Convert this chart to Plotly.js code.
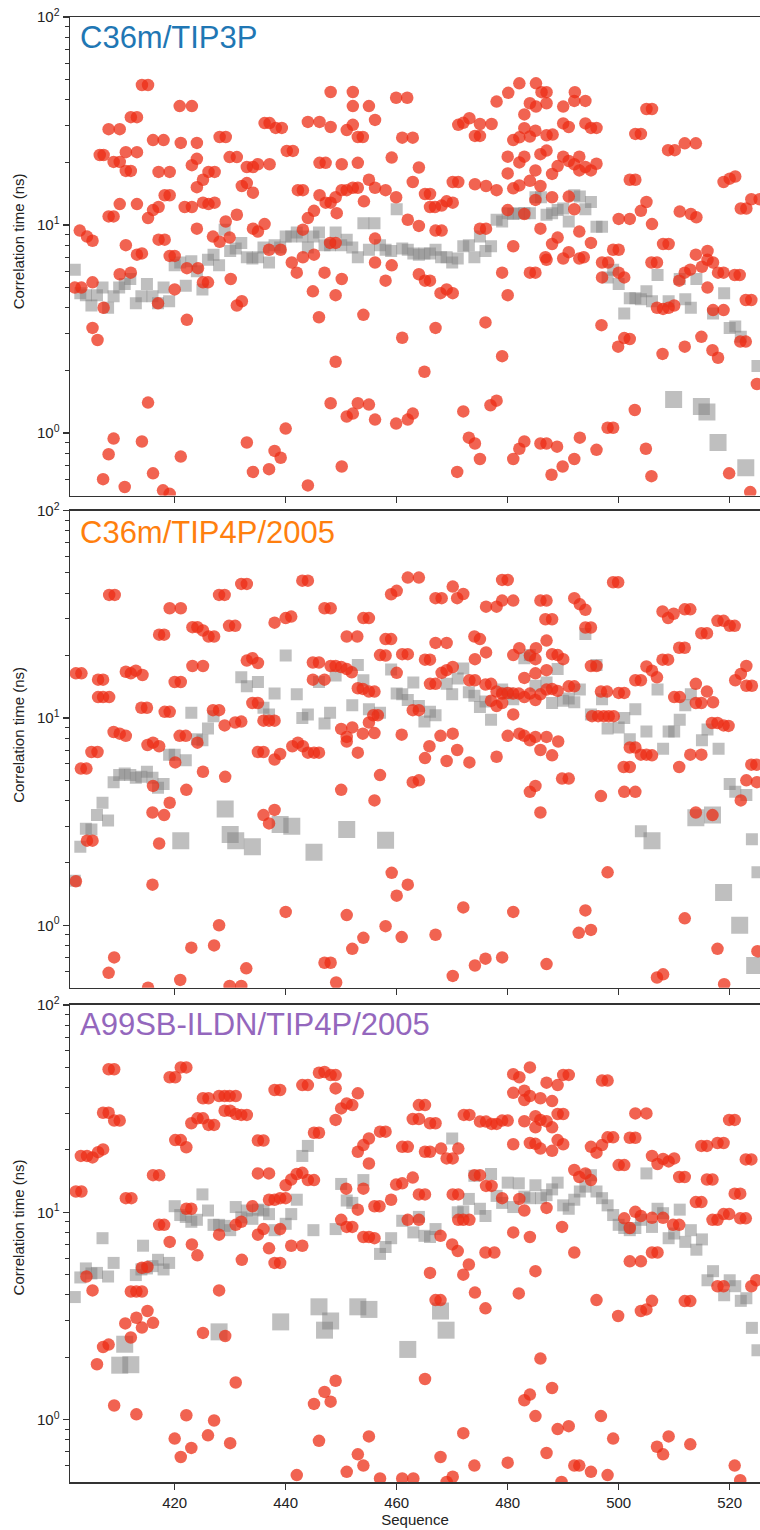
<!DOCTYPE html>
<html>
<head>
<meta charset="utf-8">
<script src="https://cdn.plot.ly/plotly-3.0.1.min.js"></script>
<style>
html,body{margin:0;padding:0;background:#fff;}
#chart{width:760px;height:1530px;}
</style>
</head>
<body>
<div id="chart"></div>
<script>
// ---------------- DATA (residue, correlation time in ns) ----------------
const panelTitles = ["C36m/TIP3P", "C36m/TIP4P/2005", "A99SB-ILDN/TIP4P/2005"];
const titleColors = ["#1f77b4", "#ff7f0e", "#9467bd"];
const xTickVals = [420, 440, 460, 480, 500, 520];
const yTickVals = [1, 10, 100];
const yTickText = ["10<sup>0</sup>", "10<sup>1</sup>", "10<sup>2</sup>"];
const yMinorVals = [0.6,0.7,0.8,0.9,2,3,4,5,6,7,8,9,20,30,40,50,60,70,80,90];

// Panel 1 : C36m/TIP3P
const redTIP3P = [
[402.9,9.4],[404.2,8.8],[405.2,8.4],[406.5,21.7],[407.2,21.7],[408.1,28.9],[410.1,28.9],[409.0,20.1],[410.1,20.1],[408.1,11.0],[409.0,11.0],[410.1,12.6],[411.2,22.4],[411.2,18.2],[412.1,18.2],[411.2,8.0],[412.1,33.0],[413.2,33.0],[413.2,22.4],[413.2,12.6],[413.2,7.2],[414.1,7.3],[414.1,47.1],[415.2,47.1],[415.2,10.8],[416.1,11.8],[417.1,12.2],[416.1,25.6],[418.0,25.6],[417.1,18.0],[419.1,18.0],[417.1,8.5],[418.2,8.5],[418.2,13.9],[419.1,13.9],[420.9,37.3],[423.1,37.3],[421.1,24.8],[424.0,24.8],[423.1,19.4],[424.0,20.8],[421.8,12.2],[423.1,12.2],[424.0,15.2],[425.1,16.5],[426.1,18.0],[427.2,18.0],[425.1,12.8],[426.1,12.6],[427.2,12.8],[424.0,9.6],[426.9,8.8],[428.1,8.3],[428.1,26.5],[429.2,26.5],[429.2,10.4],[429.9,21.2],[431.2,21.2],[431.2,11.2],[429.9,8.7],[432.1,15.4],[433.0,15.9],[434.1,14.3],[433.0,19.0],[434.1,19.0],[435.0,19.6],[437.1,19.6],[434.1,9.6],[435.0,9.3],[436.2,10.1],[436.2,30.9],[437.1,30.9],[438.2,29.3],[439.3,29.3],[440.2,22.7],[441.3,22.7],[442.2,14.7],[443.1,14.7],[443.1,9.5],[444.0,10.8],[445.1,11.7],[444.0,31.3],[446.1,31.3],[448.1,43.6],[448.1,29.6],[446.1,19.9],[447.2,19.9],[446.1,13.9],[447.2,12.8],[448.1,12.8],[449.0,13.6],[449.2,11.4],[450.1,19.6],[450.1,14.7],[451.0,14.7],[452.1,15.1],[453.0,15.1],[452.1,43.6],[452.1,37.3],[451.0,28.6],[452.1,30.3],[453.0,26.5],[453.9,26.5],[453.0,19.9],[454.1,13.0],[455.0,37.3],[456.1,32.0],[455.0,16.5],[456.1,15.1],[456.1,8.6],[448.0,8.2],[449.0,8.2],
[402.0,5.0],[403.2,5.0],[405.2,5.3],[407.2,4.0],[405.2,3.2],[406.1,2.8],[410.1,5.8],[412.1,5.9],[417.0,4.2],[419.1,7.1],[420.0,7.1],[420.0,4.9],[422.2,6.2],[424.2,6.2],[422.2,3.5],[425.1,5.3],[426.0,5.3],[430.1,5.5],[431.2,4.1],[432.1,4.3],[437.0,7.6],[439.1,7.6],[441.1,6.6],[442.0,5.9],[443.1,7.0],[445.1,7.2],[444.9,4.8],[446.0,3.6],[447.0,5.9],[449.0,4.6],[450.1,5.5],[449.0,2.2],[448.1,1.39],[451.0,1.2],[452.1,1.24],[453.0,1.39],[455.0,1.37],[456.1,1.16],[454.0,3.7],[456.1,6.6],[415.2,1.4],[409.0,0.94],[408.1,0.79],[414.1,0.91],[407.1,0.6],[411.0,0.55],[416.1,0.64],[417.9,0.53],[419.1,0.51],[421.1,0.77],[433.0,0.9],[434.1,0.65],[437.0,0.67],[438.0,0.82],[439.1,0.76],[440.0,1.05],[444.0,0.56],[450.1,0.69],
[459.9,40.9],[461.9,40.9],[461.0,26.3],[462.9,26.3],[459.1,21.1],[464.0,18.9],[462.9,16.1],[458.0,14.7],[459.9,13.6],[465.1,14.1],[466.0,14.1],[466.0,12.2],[466.9,12.2],[468.1,12.4],[469.0,13.0],[470.1,12.8],[462.0,10.6],[464.0,9.9],[467.0,9.4],[468.1,9.4],[470.1,16.1],[471.1,16.1],[471.1,30.3],[472.0,31.0],[473.1,32.6],[474.1,26.8],[475.0,26.8],[475.0,30.6],[477.1,30.6],[474.1,15.7],[476.1,15.4],[478.0,14.7],[478.0,39.2],[480.1,43.2],[482.1,48.0],[485.1,48.0],[486.1,43.5],[487.0,43.5],[484.0,38.5],[485.1,37.1],[487.0,38.5],[483.0,34.0],[490.0,37.1],[492.1,43.5],[492.0,39.5],[494.0,39.5],[490.0,30.8],[491.0,29.6],[494.0,30.8],[495.0,29.3],[496.0,29.3],[483.0,29.2],[485.0,28.4],[481.0,25.6],[482.1,26.4],[484.0,26.6],[487.0,27.0],[488.1,27.2],[480.0,21.3],[483.0,21.3],[482.1,20.0],[485.9,21.9],[487.0,22.8],[490.0,21.3],[491.0,20.3],[492.9,21.3],[492.0,19.6],[492.9,18.3],[494.0,19.0],[495.0,18.3],[496.0,19.7],[480.0,17.7],[485.0,18.3],[489.0,19.2],[488.0,17.6],[481.0,15.0],[482.1,15.5],[484.0,16.3],[485.9,15.4],[488.0,13.6],[491.0,13.7],[480.0,11.8],[483.0,11.3],[485.0,13.2],[492.0,11.9],[485.9,9.6],[489.0,8.7],[488.0,8.1],[492.9,9.3],[495.0,8.2],[491.0,7.4],[490.0,6.9],[481.0,7.9],[475.0,9.6],[476.1,9.6],[486.8,7.0],[492.9,6.9],[493.7,7.0],[500.0,10.7],[502.0,10.7],[502.0,16.5],[503.0,16.5],[503.0,27.4],[504.0,27.4],[505.0,36.1],[506.0,36.1],[505.0,12.9],[504.0,11.7],[506.0,10.1],[499.0,7.6],[500.0,7.6],[508.0,8.1],[509.0,8.1],[508.9,22.9],[510.1,22.9],[511.9,24.7],[513.9,24.7],[511.0,11.6],[513.0,11.3],[514.0,10.9],[513.9,7.2],[516.0,7.5],[518.9,16.1],[520.0,16.7],[521.0,17.1],[522.0,12.0],[523.0,12.0],[523.9,13.3],[525.4,13.3],
[459.1,6.4],[458.0,5.4],[464.0,5.8],[465.1,5.4],[466.0,5.4],[467.9,4.7],[469.0,4.9],[470.1,4.7],[461.0,2.87],[465.0,1.97],[467.0,3.2],[476.0,3.4],[479.0,5.9],[480.0,4.6],[479.0,2.34],[484.0,5.9],[485.0,5.9],[487.0,6.8],[497.0,6.6],[498.1,6.6],[497.0,5.6],[500.0,5.9],[501.0,5.6],[496.9,3.3],[501.0,2.86],[502.0,2.83],[499.9,2.6],[505.9,6.6],[506.9,6.6],[506.9,4.0],[508.0,3.95],[509.0,4.0],[510.0,4.1],[507.9,2.4],[510.9,5.4],[511.9,5.9],[512.9,6.1],[511.9,2.6],[515.0,6.3],[516.0,6.8],[517.0,6.6],[516.0,5.0],[517.9,5.9],[518.9,5.9],[520.9,5.75],[521.8,5.75],[517.0,3.9],[518.9,3.9],[514.9,2.9],[516.9,2.5],[517.9,2.3],[521.9,2.75],[522.9,2.75],[522.9,4.36],[523.9,4.36],[524.9,1.72],[459.9,1.11],[462.0,1.16],[462.9,1.24],[472.0,1.27],[476.9,1.36],[478.0,1.43],[473.0,0.95],[474.1,0.89],[475.0,0.75],[470.9,0.65],[481.0,0.75],[482.1,0.84],[483.0,0.91],[485.9,0.89],[487.0,0.89],[488.9,0.86],[487.9,0.63],[489.9,0.69],[492.0,0.75],[493.0,0.95],[496.0,0.83],[498.0,1.06],[499.0,1.06],[502.9,1.29],[504.9,0.84],[505.9,0.62],[519.9,0.64],[523.7,0.52]
];
const greyTIP3P = [
[402,6.1],[403,4.7],[404,4.6],[405,4.1],[406,4.6],[407,5.0],[408,4.0],[409,4.55],[410,5.0],[411,5.2],[412,5.5],[413,4.2],[414,4.55],[415,5.2],[416,4.55],[417,4.2],[418,5.0],[419,4.3],[420,6.4],[421,6.6],[422,5.1],[423,6.7],[424,6.0],[425,4.9],[426,6.8],[427,7.2],[428,6.4],[429,9.5],[430,7.5],[431,7.7],[432,8.2],[433,7.0],[434,6.9],[435,7.0],[436,7.8],[437,6.6],[438,8.0],[439,7.8],[440,8.8],[441,8.8],[442,9.2],[443,8.8],[444,7.8],[445,8.8],[446,9.2],[447,8.0],[448,8.0],[449,9.2],[450,8.0],[451,8.5],[452,7.8],[453,7.0],[454,10.2],[455,7.6],[456,10.2],[457,8.0],[458,7.6],[459,7.5],[460,11.9],[461,7.7],[462,7.6],[463,7.3],[464,7.2],[465,7.3],[466,7.3],[467,7.6],[468,7.0],[469,7.0],[470,6.6],[471,6.9],[472,7.9],[473,8.0],[474,7.0],[475,8.8],[476,7.5],[477,7.9],[478,10.6],[479,10.4],[480,11.4],[481,11.3],[482,11.4],[483,11.4],[484,11.4],[485,13.6],[486,13.6],[487,11.2],[488,11.4],[489,11.8],[490,12.0],[491,10.4],[492,13.9],[493,13.7],[494,11.9],[495,12.9],[496,9.8],[497,9.8],[498,5.6],[499,6.1],[500,5.2],[501,3.75],[502,4.45],[503,4.45],[504,4.4],[505,4.8],[506,4.3],[507,5.75],[509,4.3],[511,5.5],[512,4.4],[513,4.0],[514,5.5],[517,3.75],[519,4.7],[520,3.2],[521,3.25],[522,2.9],[525,2.1]
];
const bigGreyTIP3P = [[509.9,1.45],[514.9,1.34],[515.9,1.26],[517.9,0.9],[522.9,0.68]];

// Panel 2 : C36m/TIP4P/2005
const redC36mTIP4P = [
[402.2,16.4],[403.2,16.4],[406.2,15.3],[407.1,15.3],[406.2,12.6],[407.1,12.6],[408.2,12.6],[408.2,39.2],[409.2,39.2],[411.2,16.7],[412.1,16.4],[413.0,16.9],[414.2,16.1],[414.0,11.2],[415.0,11.2],[417.2,25.2],[418.1,25.2],[418.2,10.7],[419.1,10.7],[419.1,33.8],[421.1,33.8],[420.0,14.9],[421.1,14.9],[409.0,8.55],[410.1,8.4],[411.2,8.2],[423.2,27.4],[424.1,27.4],[425.1,26.4],[426.1,24.7],[427.1,24.7],[423.2,17.8],[425.1,17.8],[420.9,8.2],[422.0,8.2],[428.0,39.2],[429.0,39.2],[426.9,10.9],[428.0,10.9],[429.0,9.2],[429.8,27.8],[430.9,27.8],[430.9,9.5],[432.0,9.6],[432.0,44.3],[433.0,44.3],[433.0,18.9],[434.0,19.4],[435.0,18.4],[434.0,11.8],[435.0,11.8],[436.0,9.7],[437.0,9.7],[438.0,9.7],[438.0,28.8],[440.0,30.3],[441.0,30.8],[443.0,45.9],[444.0,45.9],[444.9,18.5],[446.0,18.5],[444.9,15.3],[447.0,15.3],[448.1,17.8],[449.0,17.8],[450.0,17.6],[451.0,17.2],[447.0,33.8],[448.1,33.8],[451.0,24.7],[452.9,24.7],[451.9,16.6],[453.0,13.9],[453.9,13.8],[455.0,13.4],[456.0,13.4],[454.0,30.3],[455.0,30.3],[456.0,8.45],[455.0,9.5],[457.0,20.1],[455.8,10.3],[456.6,10.3],[450.0,8.85],[451.0,8.1],[452.0,9.0],[453.9,8.4],[441.2,7.3],[442.2,7.6],[443.1,7.3],
[402.2,1.63],[403.1,5.7],[404.1,5.7],[405.0,6.85],[406.1,6.85],[404.2,2.56],[405.2,2.56],[415.1,7.4],[416.1,7.6],[417.2,7.3],[416.1,4.7],[416.0,3.5],[418.1,3.4],[419.1,3.9],[417.2,2.48],[416.0,1.57],[420.1,6.1],[422.1,4.5],[424.1,7.6],[425.1,5.5],[429.1,5.2],[435.0,6.85],[436.0,6.85],[438.0,6.3],[439.0,6.7],[444.0,6.8],[445.1,6.8],[446.0,6.8],[453.0,6.8],[451.0,7.7],[436.0,3.4],[437.0,3.1],[438.0,3.6],[450.0,4.5],[456.0,4.0],[440.0,1.16],[451.0,1.12],[428.0,1.0],[427.1,0.8],[423.0,0.78],[432.9,0.62],[409.1,0.70],[408.1,0.59],[421.0,0.545],[429.9,0.51],[432.0,0.51],[452.0,0.77],[454.0,0.87],[447.0,0.66],[448.1,0.66],[449.1,0.53],[415.2,0.5],
[462.0,47.5],[464.0,47.5],[459.0,39.5],[460.0,41.0],[470.1,43.0],[467.0,37.8],[468.1,37.8],[470.9,37.8],[472.0,39.6],[479.0,46.3],[480.0,46.3],[476.1,34.4],[478.0,34.4],[479.0,36.8],[481.0,36.8],[485.9,36.8],[487.0,36.8],[486.8,29.9],[488.0,29.9],[492.0,37.8],[493.0,35.3],[494.0,33.2],[494.0,27.3],[495.0,27.3],[499.0,45.1],[499.9,45.1],[507.9,32.6],[508.9,30.3],[509.9,31.8],[511.9,33.4],[512.9,33.4],[514.9,25.6],[515.9,25.6],[517.8,29.4],[518.9,29.4],[520.0,27.8],[520.9,27.8],[458.0,24.0],[459.0,24.0],[467.0,23.0],[469.0,23.0],[474.0,24.7],[475.0,24.0],[487.0,23.6],[458.0,20.0],[461.0,20.3],[462.0,20.3],[465.1,19.1],[466.0,19.1],[474.1,19.2],[476.1,20.7],[481.0,20.1],[482.1,21.7],[484.0,20.0],[485.1,21.7],[485.0,19.2],[488.0,20.3],[489.0,20.1],[490.0,19.2],[495.0,17.8],[496.0,17.8],[507.9,19.1],[508.9,19.1],[510.9,21.8],[511.9,21.8],[505.0,17.7],[506.0,16.9],[506.9,15.7],[523.0,17.8],[522.0,16.3],[521.0,15.2],[523.0,14.3],[524.0,14.3],[503.0,15.2],[504.0,15.2],[468.1,16.5],[469.0,17.0],[470.1,17.6],[466.0,14.6],[467.0,14.6],[460.0,16.5],[473.1,15.2],[474.1,15.2],[476.0,14.5],[477.0,14.6],[478.0,13.4],[483.0,15.6],[485.0,16.4],[487.0,17.0],[479.0,13.1],[480.0,13.2],[481.0,13.1],[482.0,13.1],[483.0,12.6],[484.0,13.1],[485.0,12.2],[485.9,13.0],[487.0,13.7],[488.0,13.8],[489.0,13.5],[491.0,14.2],[492.0,14.2],[479.0,11.8],[477.0,12.1],[478.0,11.4],[496.8,13.4],[497.9,13.4],[500.0,13.2],[501.0,13.2],[495.2,10.2],[496.3,10.2],[497.3,10.2],[498.2,10.2],[499.1,10.2],[510.0,12.6],[511.0,12.6],[513.9,14.6],[513.9,11.8],[514.9,11.8],[515.9,13.4],[517.0,11.9],[516.8,9.45],[517.8,9.45],[518.9,9.2],[519.8,9.15],[462.9,10.9],[464.0,10.9],[460.9,8.3],[467.9,8.2],[470.1,8.4],[465.9,7.3],[470.9,7.0],[480.0,8.2],[482.1,8.4],[483.0,8.2],[484.0,7.8],[485.0,8.1],[487.0,8.1],[489.1,7.7],[481.0,10.4],
[469.0,6.2],[473.1,6.1],[465.1,6.4],[478.0,6.5],[485.9,7.0],[488.0,6.6],[457.0,5.3],[462.9,4.9],[464.0,5.0],[484.0,4.4],[485.0,4.7],[489.8,5.1],[491.0,5.1],[485.9,3.5],[496.8,4.2],[501.0,4.4],[503.0,4.4],[500.9,5.8],[502.0,5.8],[502.0,7.2],[503.0,7.2],[504.0,6.65],[505.0,6.65],[506.0,6.6],[510.9,5.8],[512.9,6.65],[514.9,6.65],[513.9,3.5],[516.9,3.4],[523.0,5.0],[524.9,4.9],[522.0,4.0],[523.9,5.95],[524.8,5.95],[459.1,1.79],[462.0,1.57],[460.0,1.39],[458.0,0.99],[460.9,0.877],[472.0,1.22],[467.0,0.9],[481.0,1.16],[498.0,1.80],[494.0,1.18],[492.8,0.92],[495.0,0.95],[511.9,1.08],[517.8,0.77],[525.0,0.75],[470.1,0.57],[474.1,0.64],[476.0,0.69],[479.0,0.70],[487.0,0.65],[506.9,0.56],[508.0,0.58],[519.0,0.52]
];
const greyC36mTIP4P = [
[402,1.64],[403,2.39],[404,2.92],[405,2.9],[406,3.4],[407,3.9],[408,3.2],[409,4.9],[410,5.3],[411,5.4],[412,5.3],[413,5.15],[414,5.2],[415,5.5],[416,5.15],[417,4.6],[418,4.8],[419,6.65],[420,6.65],[422,6.25],[423,10.6],[424,7.9],[425,7.8],[426,8.9],[427,10.2],[432,15.7],[433,14.2],[435,14.9],[436,11.2],[437,10.4],[438,13.1],[440,20.0],[442,13.0],[443,10.0],[444,10.4],[446,14.9],[447,9.4],[448,10.6],[449,16.0],[452,11.5],[453,18.0],[454,15.2],[455,11.0],[457,10.6],[459,17.1],[460,13.1],[461,13.0],[462,12.2],[463,14.8],[464,11.4],[465,9.6],[466,10.7],[467,10.3],[469,14.6],[470,13.0],[471,15.5],[472,17.3],[473,13.3],[474,12.8],[475,11.3],[476,12.0],[477,9.8],[479,13.7],[480,13.1],[481,12.3],[483,19.4],[484,20.1],[485,14.3],[487,14.8],[488,11.8],[489,17.2],[490,12.1],[491,12.4],[492,11.9],[493,13.7],[494,25.4],[495,10.4],[496,18.0],[497,12.3],[498,8.9],[500,9.0],[501,10.0],[502,7.9],[503,11.0],[504,2.84],[505,8.6],[507,13.7],[508,7.1],[509,8.6],[510,8.6],[511,9.8],[512,11.5],[513,13.0],[515,7.8],[516,8.8],[518,7.1],[520,4.8],[521,4.4],[523,4.25],[524,2.6],[525,1.8]
];
const bigGreyC36mTIP4P = [[421.1,2.56],[429.1,3.64],[430.0,2.74],[431.0,2.56],[434.0,2.39],[439.0,3.06],[441.1,3.0],[445.1,2.25],[451.0,2.9],[458.0,2.57],[506.0,2.56],[513.9,3.3],[516.9,3.4],[518.9,1.44],[521.8,1.0],[524.5,0.64]];

// Panel 3 : A99SB-ILDN/TIP4P/2005
const redA99TIP4P = [
[402.2,12.6],[403.2,12.6],[403.1,18.7],[404.2,18.7],[405.2,18.4],[406.2,19.5],[407.1,20.1],[407.1,30.2],[408.1,30.2],[408.1,49],[409.1,49],[409.1,27.7],[410.1,27.7],[411.2,11.7],[412.2,11.7],[416.1,15.1],[417.2,15.1],[417.2,8.7],[418.1,8.7],[419.1,7.2],[419.1,44.8],[420.1,44.8],[420.1,22.3],[421.1,22.3],[422.1,20.6],[421.1,50],[422.1,50],[422.1,10.4],[423.0,10.4],[423.0,26.9],[424.1,28.4],[425.1,28.4],[425.1,35.5],[426.1,35.5],[426.1,26.4],[427.1,26.4],[423.1,7.0],[424.1,6.2],[428.0,7.8],[428.0,36.4],[429.0,36.4],[429.9,36.4],[431.0,36.4],[429.0,30.9],[430.0,30.9],[431.0,29.8],[432.0,29.5],[433.0,29.5],[432.0,9.0],[431.0,8.7],[434.0,10.7],[435.0,7.8],[436.0,8.3],[435.0,22.2],[436.0,22.2],[435.0,15.4],[437.0,15.4],[437.0,11.5],[438.0,11.5],[439.0,11.7],[440.0,11.7],[437.0,6.7],[438.0,38.9],[439.0,38.9],[439.0,8.3],[440.0,13.5],[441.0,14.4],[442.0,15.3],[443.0,15.5],[441.0,6.9],[443.0,6.9],[443.0,41.1],[444.0,41.1],[444.0,14.3],[445.1,14.3],[445.1,24.2],[446.0,24.2],[446.0,47.1],[447.0,47.5],[448.1,45.9],[449.0,45.9],[449.0,39.6],[449.0,27.9],[450.0,31.7],[451.0,33.5],[452.0,32.9],[453.0,37.5],[450.0,9.2],[451.0,8.5],[452.0,8.5],[450.9,13.0],[453.0,10.3],[454.0,7.6],[455.0,7.6],[456.0,7.5],[453.0,19.6],[454.0,21.1],[455.0,22.7],[455.0,17.2],[454.0,13.0],[456.0,10.7],[456.9,10.7],[457.0,24.5],
[404.1,4.9],[405.2,4.2],[406.0,1.85],[407.1,2.24],[408.1,2.30],[409.1,1.17],[411.1,2.91],[412.1,2.49],[412.1,4.15],[413.1,4.15],[414.1,4.15],[413.1,3.1],[414.1,2.78],[415.1,3.34],[416.1,2.93],[414.1,5.4],[415.1,5.45],[413.1,1.06],[425.1,2.62],[428.0,4.2],[429.1,2.53],[431.0,1.51],[432.1,5.9],[438.0,5.7],[439.0,5.7],[422.1,1.05],[420.0,0.81],[421.1,0.66],[423.0,0.73],[426.0,0.84],[427.1,0.99],[430.0,0.77],[442.0,0.54],[445.1,1.19],[447.0,1.36],[448.1,1.22],[449.0,1.54],[446.0,0.79],[451.0,0.56],[453.0,0.68],[454.0,0.60],[455.0,0.83],[457.0,0.52],
[458.0,24.5],[459.0,11.5],[459.9,13.6],[461.0,13.8],[462.9,14.7],[461.0,20.7],[462.0,20.7],[462.9,28.2],[464.0,28.2],[464.0,32.9],[465.1,32.9],[465.1,19.6],[466.0,19.6],[466.0,26.9],[467.0,26.9],[464.0,12.2],[465.1,12.2],[462.0,9.2],[464.0,9.2],[468.0,20.3],[469.0,18.2],[470.1,18.2],[471.1,20.3],[470.1,12.2],[471.1,12.2],[471.1,9.2],[472.0,9.2],[473.1,9.2],[467.9,7.7],[472.1,29.5],[473.1,29.5],[475.0,27.4],[476.1,27.4],[477.1,26.7],[478.0,26.7],[479.0,27.7],[480.0,27.7],[474.0,15.1],[475.0,15.1],[476.1,13.4],[477.1,13.4],[479.0,11.7],[482.1,11.6],[483.0,10.2],[487.0,10.5],[481.0,46.4],[482.1,44.8],[484.0,50],[481.0,37.7],[483.0,38.6],[484.0,36.4],[483.0,34.8],[485.9,35.5],[488.0,34.4],[487.0,42.2],[489.0,41.1],[490.0,46],[491.0,46],[489.0,29.8],[490.0,29.8],[483.0,27.5],[485.0,29.1],[485.9,27.9],[487.0,27.5],[488.0,25.7],[485.0,25.7],[481.0,21.3],[484.0,21.6],[485.0,21.4],[485.9,20.3],[488.0,19.8],[489.0,22.3],[490.0,21.3],[492.0,16.0],[492.9,14.8],[494.0,15.4],[495.0,14.3],[495.0,20.7],[496.0,19.4],[497.0,21.1],[498.0,23.0],[499.0,23.0],[497.0,43.2],[498.0,43.2],[500.0,16.9],[501.0,16.9],[502.0,22.9],[503.0,22.9],[503.0,30.0],[505.0,30.0],[501.0,9.35],[502.0,8.4],[503.0,10.05],[504.0,9.6],[506.0,9.4],[508.0,9.4],[506.0,18.7],[507.0,17.1],[508.0,18.1],[509.0,17.6],[510.0,18.2],[510.9,14.8],[511.9,14.8],[509.8,8.7],[510.9,8.7],[514.9,20.9],[515.9,20.9],[517.8,21.6],[518.9,21.6],[519.9,27.9],[520.9,27.9],[513.9,11.2],[514.9,11.2],[515.9,14.4],[516.9,14.4],[516.9,9.2],[517.8,9.2],[518.9,9.8],[519.9,9.8],[520.9,12.3],[521.9,12.3],[521.9,9.35],[522.9,9.35],[522.9,18.0],[523.9,18.0],[489.8,8.5],[481.0,8.0],[484.0,7.6],[492.0,6.4],[476.0,6.4],[477.6,6.4],[470.0,7.0],[471.0,6.5],[506.0,6.4],[507.0,6.4],
[466.0,5.1],[467.0,3.77],[467.9,3.77],[472.0,5.0],[473.0,5.6],[474.1,4.1],[476.0,3.44],[482.0,4.06],[485.0,5.2],[485.9,1.97],[483.0,1.24],[484.0,1.32],[488.0,1.42],[485.0,1.04],[489.0,0.90],[491.0,0.93],[487.0,0.69],[492.0,0.60],[492.9,0.60],[495.0,0.56],[498.0,0.54],[489.7,0.5],[472.0,0.86],[467.9,0.66],[474.0,0.6],[470.1,0.53],[469.0,0.5],[480.0,0.62],[465.1,1.57],[461.0,0.52],[463.0,0.52],[496.0,3.77],[499.9,3.16],[502.0,5.8],[504.0,5.8],[504.0,3.34],[505.0,3.4],[506.0,3.74],[511.9,3.73],[512.9,3.73],[496.8,1.04],[499.0,0.81],[506.9,0.74],[508.0,0.68],[509.0,0.83],[512.9,0.76],[520.9,0.6],[521.9,0.51],[517.8,4.4],[518.9,4.4],[523.9,4.4],[524.8,4.7]
];
const greyA99TIP4P = [
[402,3.9],[403,4.85],[404,5.36],[405,5.07],[406,5.1],[407,7.5],[408,4.9],[409,5.7],[413,4.98],[414,5.3],[414.3,6.9],[415,5.36],[416,5.5],[417,5.9],[418,5.3],[419,5.7],[420,10.7],[421,9.7],[422,9.5],[423,9.0],[424,9.2],[425,12.2],[426,10.2],[427,8.7],[428,8.7],[429,8.6],[430,8.2],[431,10.6],[432,9.45],[433,10.2],[434,9.3],[435,10.3],[436,10.2],[437,9.8],[438,8.2],[440,8.8],[441,9.8],[442,11.5],[443,18.7],[444,20.9],[445,8.2],[449,8.3],[450,13.7],[451,11.4],[452,11.1],[454,14.3],[457,6.3],[458,6.8],[459,7.5],[461,9.1],[463,8.0],[464,9.5],[465,7.7],[466,7.6],[467,8.3],[470,22.7],[471,10.0],[472,10.1],[473,11.6],[474,15.0],[475,10.4],[476,9.6],[477,15.3],[478,12.0],[479,11.1],[480,13.9],[481,10.6],[482,13.8],[483,11.9],[484,11.7],[485,13.5],[486,11.7],[487,12.1],[488,12.9],[489,13.9],[490,10.8],[491,10.4],[492,11.5],[493,12.6],[494,13.3],[495,15.1],[496,12.6],[497,11.7],[498,10.8],[499,9.7],[500,8.7],[501,8.4],[502,8.2],[503,8.4],[504,9.2],[505,15.4],[506,8.5],[507,10.4],[508,9.9],[509,7.5],[510,7.9],[511,10.3],[512,7.2],[513,8.2],[514,6.6],[515,7.4],[516,4.7],[517,5.2],[519,3.98],[520,4.7],[521,4.4],[522,3.74],[523,3.85],[524,2.77],[525,2.16]
];
const bigGreyA99TIP4P = [[410.1,1.83],[411.0,2.31],[412.1,1.84],[428.0,2.65],[439.1,2.96],[446.0,3.5],[447.0,2.7],[448.1,2.99],[453.0,3.5],[455.0,3.4],[462.0,2.18],[467.9,3.34],[468.9,2.7]];

// ---------------- STYLE / LAYOUT ----------------
const panels = [
  {red: redTIP3P, grey: greyTIP3P, big: bigGreyTIP3P},
  {red: redC36mTIP4P, grey: greyC36mTIP4P, big: bigGreyC36mTIP4P},
  {red: redA99TIP4P, grey: greyA99TIP4P, big: bigGreyA99TIP4P}
];
const domains = [[0.6733, 1.0], [0.3374, 0.6631], [0.0, 0.3256]];
const labelCenters = [0.8468, 0.5099, 0.1737];
const titleShift = [-1, -2.5, 0];
const FONT = 'Liberation Sans, Arial, Helvetica, sans-serif';
const AX = '#333';

const traces = [];
panels.forEach((p, i) => {
  const xa = i === 0 ? 'x' : 'x' + (i + 1);
  const ya = i === 0 ? 'y' : 'y' + (i + 1);
  traces.push({
    type: 'scatter', mode: 'markers', xaxis: xa, yaxis: ya, hoverinfo: 'skip',
    x: p.grey.map(d => d[0]), y: p.grey.map(d => d[1]),
    marker: {symbol: 'square', size: 12, color: 'rgba(128,128,128,0.5)', line: {width: 0}}
  });
  traces.push({
    type: 'scatter', mode: 'markers', xaxis: xa, yaxis: ya, hoverinfo: 'skip',
    x: p.big.map(d => d[0]), y: p.big.map(d => d[1]),
    marker: {symbol: 'square', size: 17, color: 'rgba(128,128,128,0.5)', line: {width: 0}}
  });
  traces.push({
    type: 'scatter', mode: 'markers', xaxis: xa, yaxis: ya, hoverinfo: 'skip',
    x: p.red.map(d => d[0]), y: p.red.map(d => d[1]),
    marker: {symbol: 'circle', size: 12.5, color: 'rgba(236,45,20,0.74)', line: {width: 0}}
  });
});

const layout = {
  width: 760, height: 1530,
  margin: {l: 70, r: 0, t: 17, b: 48, pad: 0},
  paper_bgcolor: '#fff', plot_bgcolor: '#fff',
  showlegend: false,
  font: {family: FONT, size: 15, color: '#222'},
  annotations: []
};

for (let i = 0; i < 3; i++) {
  const xk = i === 0 ? 'xaxis' : 'xaxis' + (i + 1);
  const yk = i === 0 ? 'yaxis' : 'yaxis' + (i + 1);
  const yref = i === 0 ? 'y' : 'y' + (i + 1);
  const xref = i === 0 ? 'x' : 'x' + (i + 1);
  layout[xk] = {
    domain: [0, 1], anchor: yref, range: [401.14, 525.46],
    tickmode: 'array', tickvals: xTickVals, showticklabels: i === 2,
    ticks: 'outside', ticklen: 6, tickwidth: 1.3, tickcolor: AX,
    showline: true, linecolor: AX, linewidth: 1.5, mirror: true,
    showgrid: false, zeroline: false,
    tickfont: {family: FONT, size: 15, color: '#222'}
  };
  layout[yk] = {
    domain: domains[i], anchor: xref, type: 'log',
    range: [Math.log10(0.5), 2],
    tickmode: 'array', tickvals: yTickVals, ticktext: yTickText,
    ticks: 'outside', ticklen: 6, tickwidth: 1.3, tickcolor: AX,
    minor: {tickmode: 'array', tickvals: yMinorVals, ticks: 'outside', ticklen: 3.5, tickwidth: 1, tickcolor: AX, showgrid: false},
    showline: true, linecolor: AX, linewidth: 1.5, mirror: false,
    showgrid: false, zeroline: false,
    tickfont: {family: FONT, size: 15, color: '#222'}
  };
  layout.annotations.push({
    xref: 'paper', yref: 'paper', x: 0.0116, y: domains[i][1], yshift: titleShift[i],
    xanchor: 'left', yanchor: 'top', showarrow: false,
    text: panelTitles[i], font: {family: FONT, size: 31, color: titleColors[i]}
  });
  layout.annotations.push({
    xref: 'paper', yref: 'paper', x: -0.0741, y: labelCenters[i],
    xanchor: 'center', yanchor: 'middle', showarrow: false, textangle: -90,
    text: 'Correlation time (ns)', font: {family: FONT, size: 15, color: '#222'}
  });
}
layout.xaxis3.title = {text: 'Sequence', font: {family: FONT, size: 15, color: '#222'}, standoff: 5};

Plotly.newPlot('chart', traces, layout, {staticPlot: true, displayModeBar: false});
</script>
</body>
</html>
